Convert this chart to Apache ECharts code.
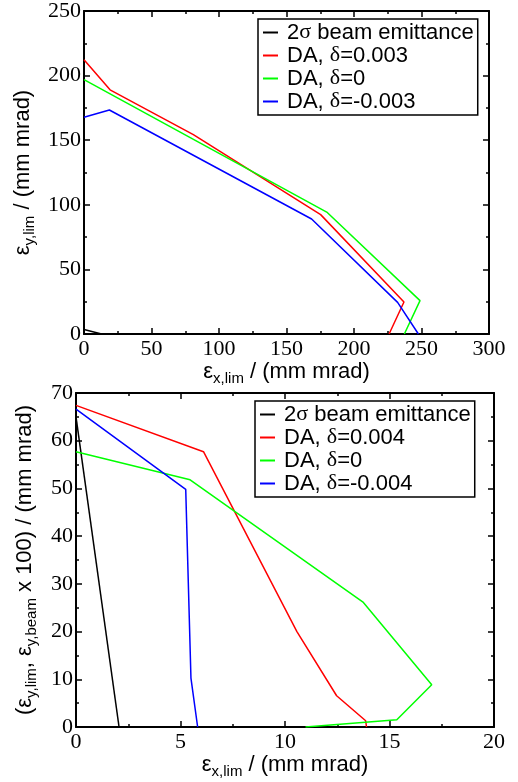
<!DOCTYPE html>
<html>
<head>
<meta charset="utf-8">
<script src="https://cdn.jsdelivr.net/npm/echarts@6/dist/echarts.min.js"></script>
<style>
  html, body { margin: 0; padding: 0; background: #fff; }
  #chart { width: 518px; height: 782px; }
</style>
</head>
<body>
<div id="chart"></div>
<script>
// Upper panel: limits of the dynamic aperture, (εx, εy) pairs in mm mrad
const topBeam = [[0, 3.5], [13, 0]];
const topDAplus = [[0, 212.3], [19.3, 189], [81, 154.3], [175.3, 92.4], [237, 24.8], [226, 0]];
const topDAzero = [[0, 196.9], [179.8, 94.4], [248.9, 25.8], [237.3, 0]];
const topDAminus = [[0, 167.7], [18.8, 173.4], [168.6, 89], [232.3, 24.5], [247.7, 0]];

// Lower panel: εy scaled by 100
const botBeam = [[0, 65], [2.06, 0]];
const botDAplus = [[0, 67.4], [6.1, 57.7], [10.57, 20], [12.47, 6.55], [13.86, 1.3], [13.9, 0]];
const botDAzero = [[0, 57.7], [5.46, 51.8], [13.75, 26.1], [17.02, 8.85], [15.35, 1.5], [10.98, 0]];
const botDAminus = [[0, 66.6], [5.25, 49.8], [5.5, 10.25], [5.82, 0]];

const topNames = ['2σ beam emittance', 'DA, δ=0.003', 'DA, δ=0', 'DA, δ=-0.003'];
const botNames = ['2σ beam emittance', 'DA, δ=0.004', 'DA, δ=0 ', 'DA, δ=-0.004'];
const colors = ['#000000', '#ff0000', '#00ff00', '#0000ff'];

// Axis ranges: [min, max, interval]
const topX = [0, 300, 50];
const topY = [0, 250, 50];
const botX = [0, 20, 5];
const botY = [0, 70, 10];

const SANS = '"Liberation Sans", Arial, sans-serif';
const SERIF = '"Liberation Serif", "Times New Roman", serif';

const subRich = {
  e: { fontFamily: SANS, fontSize: 22, color: '#000' },
  s: { fontFamily: SANS, fontSize: 15, color: '#000', padding: [13, 0, 0, 0] }
};

function axis(kind, grid, range, pos, labels, name, gap) {
  const a = {
    type: 'value',
    gridIndex: grid,
    position: pos,
    min: range[0],
    max: range[1],
    interval: range[2],
    splitLine: { show: false },
    axisLine: { show: true, onZero: false, lineStyle: { color: '#000', width: 2 } },
    axisTick: { show: true, inside: true, length: 6, lineStyle: { color: '#000', width: 1.5 } },
    minorTick: { show: true, splitNumber: 2, length: 3, lineStyle: { color: '#000', width: 1.5 } },
    axisLabel: {
      show: labels,
      fontFamily: SERIF,
      fontSize: 22,
      color: '#000',
      margin: kind === 'x' ? 4 : 3
    }
  };
  if (name) {
    a.name = name;
    a.nameLocation = 'middle';
    a.nameGap = gap;
    a.nameTextStyle = { fontFamily: SANS, fontSize: 22, color: '#000', rich: subRich };
  }
  return a;
}

function legendFor(names, left, top) {
  return {
    data: names,
    orient: 'vertical',
    left: left,
    top: top,
    icon: 'rect',
    itemWidth: 15,
    itemHeight: 2,
    itemGap: 0,
    padding: [2, 4, 2, 5],
    borderColor: '#000',
    borderWidth: 1.5,
    backgroundColor: '#fff',
    selectedMode: false,
    textStyle: {
      fontFamily: SANS,
      fontSize: 22,
      lineHeight: 23,
      color: '#000',
      padding: [0, 0, 0, 4],
      rich: { g: { fontFamily: SERIF, fontSize: 22, lineHeight: 23, color: '#000' } }
    },
    formatter: n => n.trim().replace(/([σδ])/g, '{g|$1}')
  };
}

function lines(names, datasets, xi, yi) {
  return datasets.map((d, i) => ({
    type: 'line',
    name: names[i],
    data: d,
    xAxisIndex: xi,
    yAxisIndex: yi,
    showSymbol: false,
    symbol: 'none',
    color: colors[i],
    lineStyle: { color: colors[i], width: 1.5 },
    animation: false,
    z: 1
  }));
}

const chart = echarts.init(document.getElementById('chart'), null, { renderer: 'canvas' });
chart.setOption({
  backgroundColor: '#fff',
  animation: false,
  grid: [
    { left: 84, top: 11, width: 405, height: 323 },
    { left: 76, top: 393, width: 418, height: 334 }
  ],
  xAxis: [
    axis('x', 0, topX, 'bottom', true, '{e|ε}{s|x,lim} / (mm mrad)', 17),
    axis('x', 0, topX, 'top', false),
    axis('x', 1, botX, 'bottom', true, '{e|ε}{s|x,lim} / (mm mrad)', 21),
    axis('x', 1, botX, 'top', false)
  ],
  yAxis: [
    axis('y', 0, topY, 'left', true, '{e|ε}{s|y,lim} / (mm mrad)', 42),
    axis('y', 0, topY, 'right', false),
    axis('y', 1, botY, 'left', true, '({e|ε}{s|y,lim}, {e|ε}{s|y,beam} x 100) / (mm mrad)', 37),
    axis('y', 1, botY, 'right', false)
  ],
  legend: [
    legendFor(topNames, 258, 19),
    legendFor(botNames, 255, 401)
  ],
  series: [
    ...lines(topNames, [topBeam, topDAplus, topDAzero, topDAminus], 0, 0),
    ...lines(botNames, [botBeam, botDAplus, botDAzero, botDAminus], 2, 2)
  ]
});
</script>
</body>
</html>
